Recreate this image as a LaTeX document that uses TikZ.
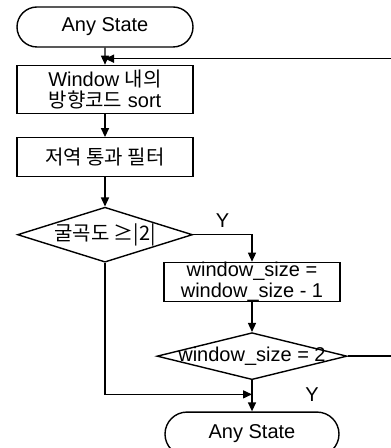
\documentclass[tikz,border=0pt]{standalone}
\usepackage{fontspec}
\setmainfont{Liberation Sans}
\newfontfamily\krfont{Noto Sans CJK KR}
\usetikzlibrary{positioning,shapes.geometric,shapes.misc,arrows.meta}

\tikzset{
  terminal/.style={draw, rounded rectangle, minimum width=88pt, minimum height=20pt, inner sep=0pt},
  process/.style={draw, rectangle, minimum width=88pt, inner sep=0pt, align=center},
  decision/.style={draw, diamond, inner sep=0pt},
  flow/.style={-{Triangle[length=4.5pt,width=4pt]}, line width=0.7pt},
}

\begin{document}
\begin{tikzpicture}[font=\fontsize{10}{10.2}\selectfont, line width=0.7pt]
\useasboundingbox (-52.5pt,13.5pt) rectangle (142.5pt,-210.5pt);

% nodes %
\node[terminal] (start) {Any State};
\node[process, minimum height=24pt, below = 8.5pt of start] (sortbox) {Window {\krfont 내의}\\{\krfont 방향코드} sort};
\node[process, minimum height=19.5pt, below = 11.5pt of sortbox] (lowpass) {\krfont 저역 통과 필터};
\node[decision, minimum width=87.5pt, minimum height=27.5pt, below = 14.5pt of lowpass] (curv) {\makebox[0pt]{\krfont 굴곡도 ≥|2|}};
\node[process, minimum height=19pt, below = 13.5pt of curv.center, xshift=73.5pt] (shrink) {window\_size =\\window\_size - 1};
\node[decision, minimum width=95pt, minimum height=23.5pt, below = 15pt of shrink] (sizetest) {\makebox[0pt]{window\_size = 2}};
\node[terminal, minimum width=87pt, minimum height=22pt, below = 15.5pt of sizetest] (stop) {Any State};

\coordinate[below = 5.5pt of start] (back);
\coordinate[below = 7pt of sizetest.south] (join);

% edges %
\draw[flow] (start) -- (sortbox);
\draw[flow] (sortbox) -- (lowpass);
\draw[flow] (lowpass) -- (curv);

%curv%
\draw[flow] (curv.east) -| node[pos=0.25, above] (ylab1) {Y} (shrink.north);
\draw[flow] (curv.south) |- (join);

%shrink%
\draw[flow] (shrink) -- (sizetest);

%sizetest%
\draw[flow] (sizetest.south) -- (stop.north);
\draw[flow] (sizetest.east) -- ++(22.5pt,0) |- (back);
\node[right = 23pt of join] (ylab2) {Y};

\end{tikzpicture}
\end{document}
